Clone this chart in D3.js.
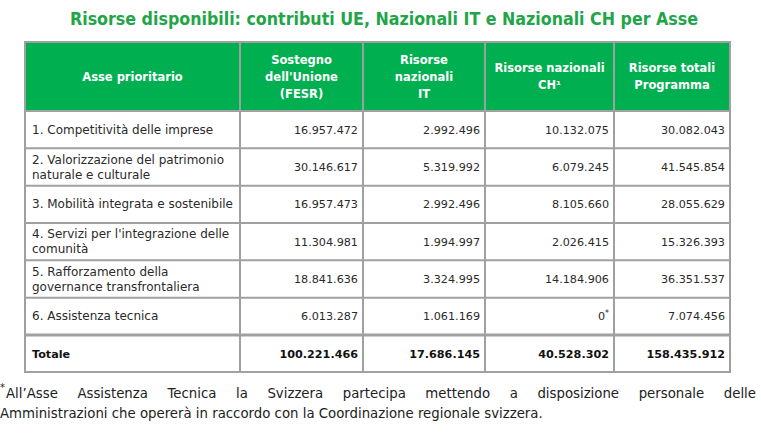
<!DOCTYPE html>
<html><head><meta charset="utf-8">
<script src="https://cdn.jsdelivr.net/npm/d3@7"></script>
<style>
html,body{margin:0;padding:0;background:#fff;}
svg{display:block;}
</style></head>
<body>
<script>
// ---------- DATA ----------
const title = "Risorse disponibili: contributi UE, Nazionali IT e Nazionali CH per Asse";
const headers = [
  ["Asse prioritario"],
  ["Sostegno", "dell'Unione", "(FESR)"],
  ["Risorse", "nazionali", "IT"],
  ["Risorse nazionali", "CH¹"],
  ["Risorse totali", "Programma"]
];
const assi = [
  ["1. Competitività delle imprese"],
  ["2. Valorizzazione del patrimonio", "naturale e culturale"],
  ["3. Mobilità integrata e sostenibile"],
  ["4. Servizi per l'integrazione delle", "comunità"],
  ["5. Rafforzamento della", "governance transfrontaliera"],
  ["6. Assistenza tecnica"]
];
const fesr   = [16957472, 30146617, 16957473, 11304981, 18841636, 6013287];
const nazIT  = [2992496, 5319992, 2992496, 1994997, 3324995, 1061169];
const nazCH  = [10132075, 6079245, 8105660, 2026415, 14184906, 0];
const totali = [30082043, 41545854, 28055629, 15326393, 36351537, 7074456];
const chMarks = ["", "", "", "", "", "*"];
const totaleLabel = "Totale";
const totaleRow = [100221466, 17686145, 40528302, 158435912];
const footnote = [
  "All\u2019Asse Assistenza Tecnica la Svizzera partecipa mettendo a disposizione personale delle",
  "Amministrazioni che opererà in raccordo con la Coordinazione regionale svizzera."
];

// ---------- LAYOUT ----------
const W = 761, H = 433;
const colEdges = [25, 240, 363, 485, 614, 730];
const headerTop = 42, headerBottom = 111, bodyBottom = 335, tableBottom = 372;
const green = "#00b050", titleGreen = "#21a548", gridGrey = "#a0a0a0";
const bodyFont = "'DejaVu Sans', sans-serif";

const it = d3.formatLocale({decimal: ",", thousands: ".", grouping: [3], currency: ["€", ""]});
const fmt = it.format(",d");

const svg = d3.select("body").append("svg").attr("width", W).attr("height", H);

svg.append("text")
  .attr("x", 384).attr("y", 25)
  .attr("text-anchor", "middle")
  .attr("textLength", 628).attr("lengthAdjust", "spacingAndGlyphs")
  .attr("font-family", "'DejaVu Sans Condensed', 'DejaVu Sans', sans-serif")
  .attr("font-stretch", "condensed")
  .attr("font-weight", "bold")
  .attr("font-size", 18.5)
  .attr("fill", titleGreen)
  .text(title);

// header background
svg.append("rect")
  .attr("x", colEdges[0]).attr("y", headerTop)
  .attr("width", colEdges[5] - colEdges[0]).attr("height", headerBottom - headerTop)
  .attr("fill", green);

const rowY = d3.scaleBand().domain(d3.range(assi.length)).range([headerBottom, bodyBottom]);

// header text
const headG = svg.append("g");
headers.forEach((lines, c) => {
  const cx = (colEdges[c] + colEdges[c + 1]) / 2;
  const cy = (headerTop + headerBottom) / 2;
  const lh = 17;
  const t = headG.append("text")
    .attr("text-anchor", "middle")
    .attr("font-family", bodyFont)
    .attr("font-weight", "bold")
    .attr("font-size", 11.5)
    .attr("fill", "#fff");
  lines.forEach((ln, i) => {
    t.append("tspan")
      .attr("x", cx)
      .attr("y", cy + (i - (lines.length - 1) / 2) * lh + 4)
      .text(ln);
  });
});

// body rows
const cols = [fesr, nazIT, nazCH, totali];
const bodyG = svg.append("g")
  .attr("font-family", bodyFont).attr("fill", "#2a2a2a");

assi.forEach((lines, r) => {
  const y0 = rowY(r), cy = y0 + rowY.bandwidth() / 2;
  const lh = 15;
  const t = bodyG.append("text").attr("font-size", 12);
  lines.forEach((ln, i) => {
    t.append("tspan")
      .attr("x", colEdges[0] + 7)
      .attr("y", cy + (i - (lines.length - 1) / 2) * lh + 4)
      .text(ln);
  });
  cols.forEach((arr, c) => {
    const txt = bodyG.append("text")
      .attr("font-size", 11.2)
      .attr("x", colEdges[c + 2] - 5)
      .attr("y", cy + 4)
      .attr("text-anchor", "end");
    txt.append("tspan").text(fmt(arr[r]));
    if (c === 2 && chMarks[r]) {
      txt.append("tspan").attr("font-size", 8).attr("dy", -4).text(chMarks[r]);
    }
  });
});

// total row
const tcy = (bodyBottom + tableBottom) / 2 + 4;
const totG = svg.append("g")
  .attr("font-family", bodyFont).attr("font-size", 11.2).attr("font-weight", "bold").attr("fill", "#111");
totG.append("text").attr("x", colEdges[0] + 7).attr("y", tcy).text(totaleLabel);
totaleRow.forEach((v, c) => {
  totG.append("text").attr("x", colEdges[c + 2] - 5).attr("y", tcy)
    .attr("text-anchor", "end").text(fmt(v));
});

// grid lines
const gridG = svg.append("g").attr("stroke", gridGrey).attr("stroke-width", 2).attr("fill", "none");
gridG.append("rect")
  .attr("x", colEdges[0]).attr("y", headerTop)
  .attr("width", colEdges[5] - colEdges[0]).attr("height", tableBottom - headerTop);
colEdges.slice(1, -1).forEach(x => {
  gridG.append("line").attr("x1", x).attr("x2", x).attr("y1", headerTop).attr("y2", tableBottom);
});
d3.range(1, assi.length).forEach(r => {
  gridG.append("line").attr("x1", colEdges[0]).attr("x2", colEdges[5])
    .attr("y1", rowY(r)).attr("y2", rowY(r));
});
gridG.append("line").attr("x1", colEdges[0]).attr("x2", colEdges[5])
  .attr("y1", headerBottom).attr("y2", headerBottom);
gridG.append("line").attr("x1", colEdges[0]).attr("x2", colEdges[5])
  .attr("y1", bodyBottom).attr("y2", bodyBottom).attr("stroke-width", 3);

// footnote (justified first line)
const fnSize = 13.3;
const fnG = svg.append("g").attr("font-family", bodyFont).attr("font-size", fnSize).attr("fill", "#222");
fnG.append("text").attr("x", 0).attr("y", 391).attr("font-size", 10).text("*");
const fnLeft = 6, fnRight = 756;
const words = footnote[0].split(" ");
const wNodes = words.map(w => fnG.append("text").attr("y", 398).text(w));
const widths = wNodes.map(n => n.node().getComputedTextLength());
const gap = Math.max(4, (fnRight - fnLeft - d3.sum(widths)) / (words.length - 1));
let x = fnLeft;
wNodes.forEach((n, i) => { n.attr("x", x); x += widths[i] + gap; });
const l2 = fnG.append("text").attr("x", 0).attr("y", 418).text(footnote[1]);
if (l2.node().getComputedTextLength() > 624) {
  l2.attr("textLength", 624).attr("lengthAdjust", "spacingAndGlyphs");
}
</script>
</body></html>
